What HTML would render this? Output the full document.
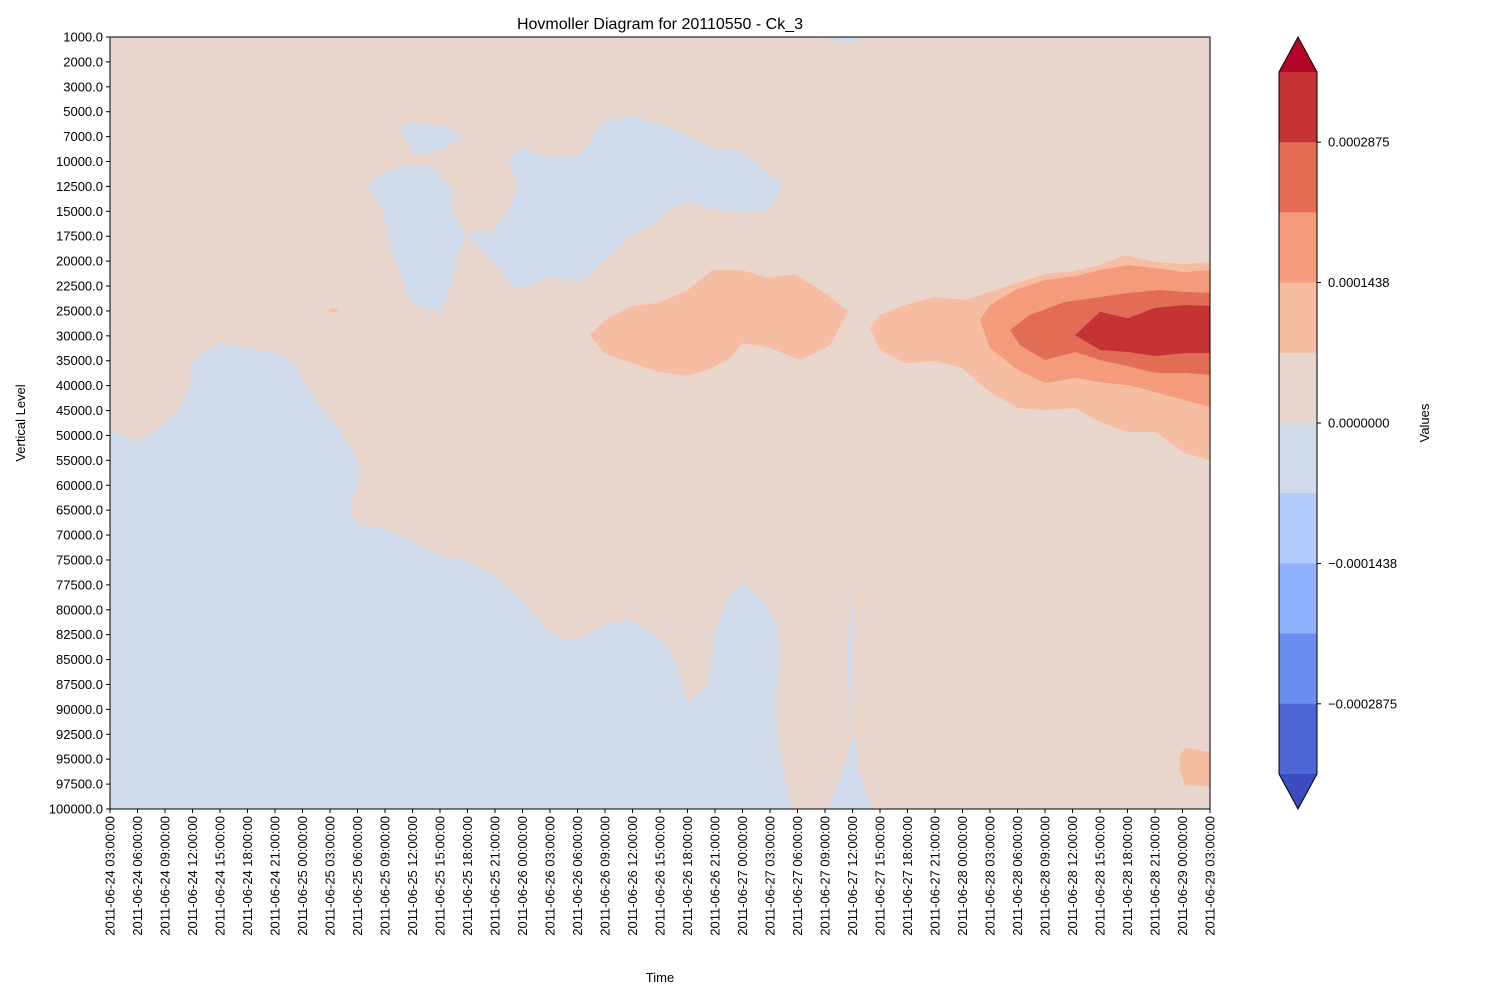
<!DOCTYPE html>
<html><head><meta charset="utf-8"><style>
body{margin:0;background:#fff;}
svg{display:block;font-family:"Liberation Sans","DejaVu Sans",sans-serif;}
</style></head><body>
<svg id="chart" width="1500" height="1000" viewBox="0 0 1500 1000">
<rect x="0" y="0" width="1500" height="1000" fill="#fff"/>
<text x="660" y="29" font-size="16" text-anchor="middle">Hovmoller Diagram for 20110550 - Ck_3</text>
<g id="plot"></g>
<g id="yaxis"></g>
<g id="xaxis"></g>
<g id="cbar"></g>
<text x="660" y="982" font-size="13" text-anchor="middle">Time</text>
<text transform="translate(25,423) rotate(-90)" font-size="13" text-anchor="middle">Vertical Level</text>
<text transform="translate(1429,423) rotate(-90)" font-size="13" text-anchor="middle">Values</text>
</svg>
<script>
const levels=["1000.0","2000.0","3000.0","5000.0","7000.0","10000.0","12500.0","15000.0","17500.0","20000.0","22500.0","25000.0","30000.0","35000.0","40000.0","45000.0","50000.0","55000.0","60000.0","65000.0","70000.0","75000.0","77500.0","80000.0","82500.0","85000.0","87500.0","90000.0","92500.0","95000.0","97500.0","100000.0"];
const times=[];
const days=["24","25","26","27","28","29"];
const hours=["00","03","06","09","12","15","18","21"];
days.forEach(d=>hours.forEach(h=>{const s="2011-06-"+d+" "+h+":00:00";if(s>="2011-06-24 03:00:00"&&s<="2011-06-29 03:00:00")times.push(s);}));
const cbTicks=["0.0002875","0.0001438","0.0000000","\u22120.0001438","\u22120.0002875"];
const cbTickVals=[0.0002875,0.0001438,0,-0.0001438,-0.0002875];
const cbColors=["#c53334","#e36c55","#f39b7a","#f6bda2","#e8d5cc","#cfdaea","#b2ccfb","#8fb1fe","#6b8df0","#4c66d6"];
const blueLow=[[0,15.78],[1.02,16.27],[2,15.5],[2.55,14.98],[2.84,14.18],[3.02,12.97],[4,12.25],[5.02,12.53],[6,12.65],[6.62,13.05],[7.45,14.58],[8.36,15.78],[9.02,16.99],[9.09,17.79],[8.8,18.59],[8.8,19.2],[9.02,19.6],[9.82,19.72],[10.9,20.2],[12,20.84],[12.9,21],[13.93,21.6],[14.9,22.5],[15.93,23.9],[16.9,24.3],[17.93,23.6],[18.9,23.4],[19.93,24.06],[20.55,25],[21,26.75],[21.75,26],[22,23.8],[22.47,22.6],[22.98,21.9],[23.93,22.85],[24.3,23.8],[24.36,25.2],[24.2,26.6],[24.33,28.6],[24.8,31],[0,31]];
const blueSliver=[[27.02,22.2],[26.84,24.2],[26.84,25.8],[26.98,28.2],[26.55,29.8],[26.1,31],[27.7,31],[27.2,29.4],[26.98,27.4],[27.02,24.2]];
const blueUpper=[[9.38,5.98],[9.93,5.42],[10.91,5.14],[11.64,5.18],[12.44,6.06],[12.44,7.03],[12.91,7.87],[13.93,7.83],[14.47,7.03],[14.84,5.94],[14.47,4.94],[14.91,4.46],[15.93,4.82],[17.09,4.78],[17.93,3.41],[18.91,3.17],[19.93,3.49],[21.02,3.98],[21.89,4.46],[22.98,4.62],[23.93,5.42],[24.44,5.98],[23.93,6.95],[22.91,7.03],[21.89,6.91],[21.09,6.63],[20.29,6.95],[20,7.35],[18.91,7.99],[18,8.96],[17.09,9.88],[15.93,9.64],[15.27,9.96],[14.62,10.08],[14.04,9.16],[12.91,7.95],[12.58,9.04],[12.44,9.96],[12,11.04],[10.98,10.76],[10.25,8.63],[9.93,7.03]];
const blueBlob=[[10.62,3.65],[10.91,3.41],[12,3.57],[12.87,4.02],[12,4.54],[11.09,4.74],[10.62,3.94]];
const blueTop=[[25.82,0],[26.55,0.2],[26.91,0.28],[27.35,0]];
const orangeMid=[[17.45,11.97],[18,11.37],[18.98,10.8],[19.93,10.68],[21.02,10.16],[21.89,9.36],[22.98,9.36],[23.93,9.68],[24.91,9.52],[26.11,10.36],[26.84,11.04],[26.18,12.37],[25.09,12.97],[24,12.49],[22.98,12.29],[22.55,12.89],[21.89,13.29],[21.02,13.61],[19.93,13.45],[18.98,13.09],[18,12.73]];
const orangeRight=[[27.64,11.69],[28,11.16],[28.91,10.76],[30,10.44],[31.09,10.56],[32,10.24],[33.09,9.84],[34,9.52],[35.09,9.4],[36,9.16],[36.91,8.76],[38,9.04],[39.09,9.12],[40,9.04],[40,16.99],[39.09,16.71],[38,15.86],[37.02,15.86],[36,15.46],[35.09,14.9],[34,14.98],[33.02,14.9],[32,14.26],[30.98,13.29],[30,13.01],[28.91,13.09],[28,12.57]];
const salmon=[[31.64,11.37],[32,10.76],[32.91,10.16],[34,9.76],[35.09,9.6],[36,9.36],[37.02,9.16],[38,9.28],[39.09,9.44],[40,9.36],[40,14.86],[39.09,14.58],[38,14.26],[37.02,13.98],[36,13.86],[35.09,13.69],[34,13.9],[33.02,13.37],[32,12.49]];
const redMid=[[32.73,11.77],[33.45,11.16],[34.73,10.64],[36,10.44],[37.02,10.28],[38.18,10.16],[39.09,10.24],[40,10.28],[40,13.57],[39.09,13.49],[38,13.49],[37.02,13.21],[36,12.97],[35.09,12.65],[34,12.97],[33.09,12.37]];
const redDark=[[35.09,11.97],[36,11.04],[37.02,11.29],[38,10.88],[39.09,10.76],[40,10.8],[40,12.69],[39.09,12.69],[38,12.81],[37.02,12.65],[36,12.57]];
const orangeBottom=[[38.91,28.84],[39.09,28.55],[40,28.71],[40,30.08],[39.09,30.04],[38.91,29.43]];
const orangeDot=[[7.89,11.0],[8.11,10.88],[8.33,11.0],[8.11,11.08]];

const NS="http://www.w3.org/2000/svg";
const X0=110,X1=1210,Y0=37,Y1=809;
const xs=t=>X0+t*(X1-X0)/(times.length-1);
const ys=l=>Y0+l*(Y1-Y0)/(levels.length-1);
function mk(tag,attrs,parent){const e=document.createElementNS(NS,tag);for(const k in attrs)e.setAttribute(k,attrs[k]);parent.appendChild(e);return e;}
const plot=document.getElementById('plot');
let bg=mk('rect',{x:X0,y:Y0,width:X1-X0,height:Y1-Y0,fill:"#e8d5cc"},plot);


const regions=[[blueLow,"#cfdaea","contour-blue-lower"],[blueSliver,"#cfdaea","contour-blue-sliver"],[blueUpper,"#cfdaea","contour-blue-upper"],[blueBlob,"#cfdaea","contour-blue-blob"],[blueTop,"#cfdaea","contour-blue-top"],[orangeMid,"#f6bda2","contour-orange-mid"],[orangeRight,"#f6bda2","contour-orange-right"],[salmon,"#f39b7a","contour-salmon"],[redMid,"#e36c55","contour-red"],[redDark,"#c53334","contour-dark-red"],[orangeBottom,"#f6bda2","contour-orange-bottom"],[orangeDot,"#f6bda2","contour-orange-dot"]];
regions.forEach(r=>{
  const p=mk('polygon',{points:r[0].map(q=>xs(q[0]).toFixed(1)+","+ys(q[1]).toFixed(1)).join(" "),fill:r[1]},plot);
  
  
});
let fr=mk('rect',{x:X0,y:Y0,width:X1-X0,height:Y1-Y0,fill:"none",stroke:"#000","stroke-width":1},plot);


const ya=document.getElementById('yaxis');
levels.forEach((l,i)=>{
  const y=ys(i);
  mk('line',{x1:X0-4,x2:X0,y1:y,y2:y,stroke:"#000"},ya);
  const t=mk('text',{x:X0-7,y:y+4.5,"font-size":13,"text-anchor":"end"},ya);
  t.textContent=l;
  
  
});
const xa=document.getElementById('xaxis');
times.forEach((s,i)=>{
  const x=xs(i);
  mk('line',{x1:x,x2:x,y1:Y1,y2:Y1+4,stroke:"#000"},xa);
  const t=mk('text',{transform:`translate(${x+4.5},${Y1+7}) rotate(-90)`,"font-size":13,"text-anchor":"end"},xa);
  t.textContent=s;
  
  
});
const cb=document.getElementById('cbar');
const CX=1279,CW=38,CT=72,CB=774,bh=(CB-CT)/cbColors.length;
let tri=mk('polygon',{points:`${CX},${CT} ${CX+CW/2},37 ${CX+CW},${CT}`,fill:"#b40426"},cb);


cbColors.forEach((c,i)=>{
  const r=mk('rect',{x:CX,y:CT+i*bh,width:CW,height:bh+0.5,fill:c},cb);
  
  
});
let tri2=mk('polygon',{points:`${CX},${CB} ${CX+CW/2},809 ${CX+CW},${CB}`,fill:"#3b4cc0"},cb);


mk('polygon',{points:`${CX},${CT} ${CX+CW/2},37 ${CX+CW},${CT} ${CX+CW},${CB} ${CX+CW/2},809 ${CX},${CB}`,fill:"none",stroke:"#000","stroke-width":1},cb);
const vmax=0.000359375;
const cy=v=>(CT+CB)/2-v/vmax*(CB-CT)/2;
cbTicks.forEach((s,i)=>{
  const y=cy(cbTickVals[i]);
  mk('line',{x1:CX+CW,x2:CX+CW+4,y1:y,y2:y,stroke:"#000"},cb);
  const t=mk('text',{x:CX+CW+11,y:y+4.5,"font-size":13},cb);
  t.textContent=s;
  
  
});
</script>
</body></html>
